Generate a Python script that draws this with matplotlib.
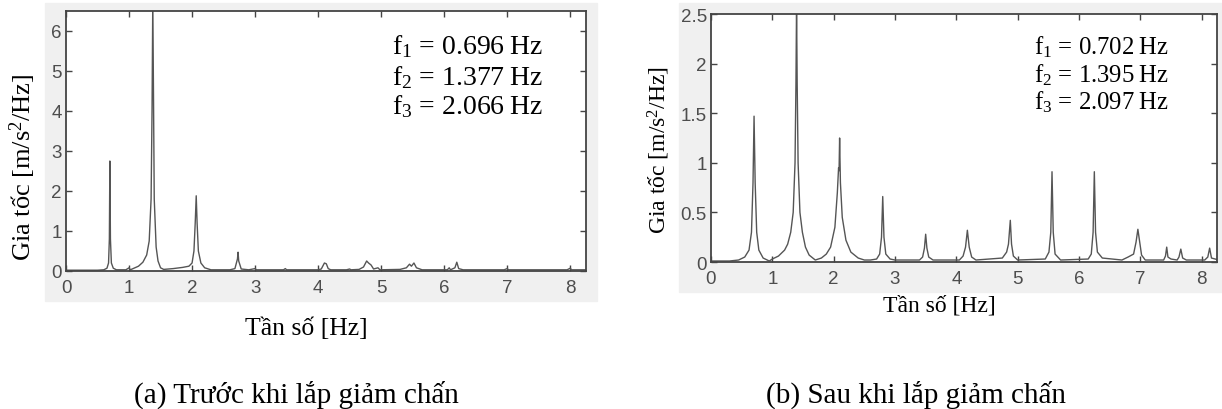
import numpy as np
import matplotlib
matplotlib.use("Agg")
import matplotlib.pyplot as plt
from matplotlib.patches import Rectangle

plt.rcParams['mathtext.fontset'] = 'custom'
plt.rcParams['mathtext.rm'] = 'Liberation Serif'
plt.rcParams['mathtext.it'] = 'Liberation Serif'

# (a) truoc khi lap giam chan - spectrum
freq_a = [0.00, 0.50, 0.60, 0.65, 0.675, 0.688, 0.696, 0.705, 0.72, 0.75, 0.80, 0.95,
          1.00, 1.02, 1.05, 1.15, 1.22, 1.28, 1.32, 1.35, 1.365, 1.377, 1.39, 1.40,
          1.43, 1.46, 1.50, 1.55, 1.70, 1.85, 1.95, 2.00, 2.03, 2.05, 2.066, 2.08,
          2.10, 2.14, 2.20, 2.30, 2.60, 2.68, 2.72, 2.73, 2.74, 2.76, 2.78, 2.90,
          3.00, 3.02, 3.45, 3.48, 3.50, 4.00, 4.05, 4.10, 4.13, 4.16, 4.20, 4.45,
          4.50, 4.52, 4.65, 4.72, 4.77, 4.80, 4.84, 4.88, 4.95, 4.98, 5.30, 5.40,
          5.45, 5.48, 5.52, 5.56, 5.65, 6.05, 6.08, 6.10, 6.17, 6.20, 6.23, 6.30,
          6.95, 7.00, 7.02, 7.95, 8.00, 8.02, 8.25]
acc_a = [0.02, 0.02, 0.03, 0.07, 0.20, 0.80, 2.75, 0.80, 0.20, 0.07, 0.03, 0.03,
         0.08, 0.03, 0.05, 0.12, 0.22, 0.40, 0.75, 1.80, 4.00, 6.80, 4.00, 1.80,
         0.60, 0.25, 0.08, 0.04, 0.06, 0.09, 0.12, 0.20, 0.50, 1.20, 1.88, 1.20,
         0.50, 0.20, 0.08, 0.03, 0.03, 0.06, 0.30, 0.47, 0.25, 0.15, 0.05, 0.03,
         0.06, 0.03, 0.03, 0.06, 0.03, 0.03, 0.05, 0.20, 0.18, 0.06, 0.03, 0.03,
         0.05, 0.03, 0.04, 0.10, 0.25, 0.20, 0.15, 0.05, 0.08, 0.03, 0.04, 0.08,
         0.17, 0.12, 0.20, 0.08, 0.03, 0.03, 0.08, 0.03, 0.08, 0.22, 0.06, 0.03,
         0.03, 0.06, 0.03, 0.03, 0.07, 0.03, 0.03]

# (b) sau khi lap giam chan
freq_b = [0.00, 0.30, 0.45, 0.55, 0.62, 0.66, 0.685, 0.702, 0.72, 0.745, 0.78, 0.85,
          0.95, 1.00, 1.10, 1.20, 1.25, 1.30, 1.34, 1.37, 1.385, 1.395, 1.405, 1.42,
          1.45, 1.49, 1.54, 1.60, 1.70, 1.80, 1.88, 1.95, 2.02, 2.06, 2.08, 2.088,
          2.097, 2.11, 2.14, 2.20, 2.28, 2.40, 2.50, 2.60, 2.70, 2.75, 2.78, 2.80,
          2.82, 2.85, 2.92, 3.00, 3.40, 3.45, 3.48, 3.50, 3.52, 3.55, 3.62, 4.05,
          4.11, 4.15, 4.18, 4.21, 4.25, 4.32, 4.75, 4.82, 4.85, 4.88, 4.90, 4.93,
          5.00, 5.45, 5.51, 5.54, 5.56, 5.58, 5.61, 5.70, 6.15, 6.20, 6.23, 6.25,
          6.27, 6.30, 6.38, 6.70, 6.80, 6.89, 6.93, 6.96, 6.99, 7.02, 7.08, 7.38,
          7.41, 7.43, 7.45, 7.50, 7.60, 7.63, 7.66, 7.69, 7.75, 8.05, 8.10, 8.13,
          8.16, 8.28]
acc_b = [0.01, 0.01, 0.02, 0.05, 0.12, 0.30, 0.80, 1.47, 0.80, 0.30, 0.12, 0.04,
         0.01, 0.03, 0.06, 0.12, 0.18, 0.30, 0.50, 1.00, 1.80, 2.60, 1.80, 1.00,
         0.50, 0.30, 0.15, 0.07, 0.02, 0.04, 0.08, 0.15, 0.35, 0.70, 0.95, 0.92,
         1.25, 0.80, 0.45, 0.22, 0.10, 0.04, 0.02, 0.02, 0.03, 0.08, 0.25, 0.66,
         0.25, 0.08, 0.03, 0.02, 0.02, 0.05, 0.14, 0.28, 0.14, 0.05, 0.02, 0.02,
         0.06, 0.15, 0.32, 0.15, 0.05, 0.02, 0.04, 0.10, 0.18, 0.42, 0.18, 0.06,
         0.02, 0.03, 0.10, 0.30, 0.91, 0.30, 0.08, 0.02, 0.03, 0.08, 0.30, 0.91,
         0.30, 0.10, 0.04, 0.02, 0.05, 0.08, 0.20, 0.33, 0.20, 0.07, 0.02, 0.02,
         0.06, 0.15, 0.05, 0.03, 0.02, 0.05, 0.13, 0.04, 0.02, 0.02, 0.05, 0.14,
         0.04, 0.02]

xticks = [0, 1, 2, 3, 4, 5, 6, 7, 8]
yticks_a = [0, 1, 2, 3, 4, 5, 6]
yticks_b = [0, 0.5, 1, 1.5, 2, 2.5]
yticklabels_b = ['0', '0.5', '1', '1.5', '2', '2.5']
modes_a = ['0.696', '1.377', '2.066']
modes_b = ['0.702', '1.395', '2.097']

W, H = 1222, 410
fig = plt.figure(figsize=(W / 100, H / 100), dpi=100)

def px(x0, y0, x1, y1):
    # pixel box -> figure fraction [left, bottom, width, height]
    return [x0 / W, 1 - y1 / H, (x1 - x0) / W, (y1 - y0) / H]

bg = '#f0f0f0'
for box in [(45, 4, 597, 302), (679, 4, 1222, 293)]:
    r = px(*box)
    fig.add_artist(Rectangle(r[:2], r[2], r[3], transform=fig.transFigure,
                             color=bg, zorder=-5))

ax1 = fig.add_axes(px(66, 12, 586, 272))
ax2 = fig.add_axes(px(711, 15, 1217, 263))

line_col = '#555555'
ax1.plot(freq_a, acc_a, color=line_col, lw=1.0)
ax2.plot(freq_b, acc_b, color=line_col, lw=1.0)

ax1.set_xlim(0, 8.25)
ax1.set_ylim(0, 6.5)
ax1.set_yticks(yticks_a)
ax2.set_xlim(0, 8.25)
ax2.set_ylim(0, 2.5)
ax2.set_yticks(yticks_b)
ax2.set_yticklabels(yticklabels_b)

for ax in [ax1, ax2]:
    ax.set_xticks(xticks)
    ax.tick_params(direction='in', length=4, width=1, color='#444444',
                   top=True, right=True, labelcolor='#4d4d4d', labelsize=13.5)
    ax.tick_params(axis='x', pad=6)
    ax.tick_params(axis='y', pad=3)
    for lab in ax.get_xticklabels() + ax.get_yticklabels():
        lab.set_fontfamily('Liberation Sans')
    for s in ax.spines.values():
        s.set_color('#444444')
        s.set_linewidth(1.3)

serif = 'Liberation Serif'

def ptxt(x, y, s, size, **kw):
    fig.text(x / W, 1 - y / H, s, fontsize=size, family=serif, **kw)

# axis labels
ptxt(23, 167, 'Gia tốc [m/s$^2$/Hz]', 19, rotation=90, ha='center', va='center')
ptxt(659, 150, 'Gia tốc [m/s$^2$/Hz]', 17, rotation=90, ha='center', va='center')
ptxt(306, 329, 'Tần số [Hz]', 18.5, ha='center', va='center')
ptxt(939, 306, 'Tần số [Hz]', 17, ha='center', va='center')

# natural frequencies
for i, (fa, ya) in enumerate(zip(modes_a, [47, 78, 107])):
    ptxt(392, ya, 'f$_%d$ = %s\u2009Hz' % (i + 1, fa), 20, ha='left', va='center')
for i, (fb, yb) in enumerate(zip(modes_b, [47, 75, 102])):
    ptxt(1034, yb, 'f$_%d$ = %s\u2009Hz' % (i + 1, fb), 17.8, ha='left', va='center')

# captions
ptxt(296, 395, '(a) Trước khi lắp giảm chấn', 21, ha='center', va='center')
ptxt(916, 395, '(b) Sau khi lắp giảm chấn', 21, ha='center', va='center')

fig.savefig('out.png', dpi=100)
